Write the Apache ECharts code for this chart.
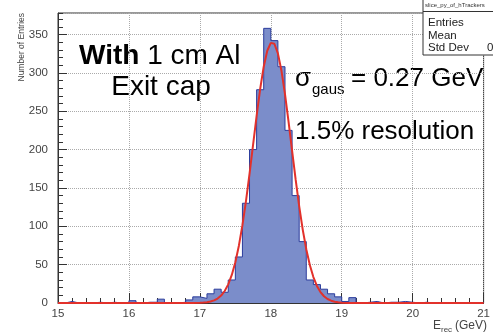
<!DOCTYPE html>
<html>
<head>
<meta charset="utf-8">
<script src="https://cdn.jsdelivr.net/npm/echarts@6/dist/echarts.min.js"></script>
<style>
  html, body { margin: 0; padding: 0; background: #fff; }
  #chart { width: 493px; height: 333px; }
</style>
</head>
<body>
<div id="chart"></div>
<script>
// ---- data ----
const binStart = 15.0;
const binWidth = 0.1;
const counts = [
  0, 2, 0, 0, 0, 1, 0, 1, 0, 0,
  3, 0, 1, 1, 5, 0, 0, 1, 4, 8,
  6, 12, 18, 14, 30, 60, 130, 200, 278, 358,
  342, 308, 225, 140, 80, 30, 24, 18, 12, 8,
  2, 7, 0, 1, 2, 0, 1, 1, 2, 1,
  0, 1, 0, 0, 0, 0, 0, 0, 0, 0
];
const fitX = [15, 16.8, 16.9, 17.0,
  17.05, 17.1, 17.15, 17.2, 17.25, 17.3, 17.35, 17.4, 17.45, 17.5,
  17.55, 17.6, 17.65, 17.7, 17.75, 17.8, 17.85, 17.9, 17.95, 18.0,
  18.05, 18.1, 18.15, 18.2, 18.25, 18.3, 18.35, 18.4, 18.45, 18.5,
  18.55, 18.6, 18.65, 18.7, 18.75, 18.8, 18.85, 18.9, 18.95, 19.0,
  19.1, 19.2, 21];
const fitY = [0, 0.01, 0.06, 0.27,
  0.54, 1.02, 1.89, 3.38, 5.82, 9.71, 15.65, 24.3, 36.6, 53.2,
  74.7, 101.4, 132.9, 168.4, 206.2, 244.0, 278.9, 308.0, 328.8, 339.1,
  337.9, 325.4, 302.8, 272.2, 236.5, 198.6, 161.1, 126.3, 95.7, 70.0,
  49.5, 33.8, 22.3, 14.3, 8.8, 5.24, 3.02, 1.68, 0.90, 0.47,
  0.11, 0.02, 0];
const xMin = 15, xMax = 21, xStep = 1;
const yMin = 0, yMax = 378, yStep = 50, yMinorStep = 10;
const statsTitle = 'slice_py_of_hTrackers';
const statsLabels = ['Entries', 'Mean', 'Std Dev'];

// ---- build series ----
const histData = counts.map((c, i) => [+(binStart + i * binWidth).toFixed(2), c]);
histData.push([+(binStart + counts.length * binWidth).toFixed(2), counts[counts.length - 1]]);
const fitData = fitX.map((x, i) => [x, fitY[i]]);

const FONT = '"Liberation Sans", Arial, Helvetica, sans-serif';
const chart = echarts.init(document.getElementById('chart'), null, { renderer: 'canvas' });

chart.setOption({
  animation: false,
  backgroundColor: '#fff',
  grid: { left: 58, right: 6, top: 13, bottom: 30, show: true, borderColor: '#333', borderWidth: 1, backgroundColor: 'transparent' },
  xAxis: {
    type: 'value', min: xMin, max: xMax, interval: xStep,
    axisLine: { show: true, lineStyle: { color: '#333', width: 1 } },
    axisTick: { show: true, inside: true, length: 10, lineStyle: { color: '#333' } },
    minorTick: { show: true, splitNumber: 5, length: 5, lineStyle: { color: '#333' } },
    axisLabel: { color: '#444', fontSize: 11.5, fontFamily: FONT, margin: 5 },
    splitLine: { show: true, lineStyle: { color: '#aaa', type: 'dotted', width: 1 } }
  },
  yAxis: [{
    type: 'value', min: yMin, max: yMax, interval: yStep, position: 'left',
    axisLine: { show: true, lineStyle: { color: '#333', width: 1 } },
    axisTick: { show: true, inside: true, length: 9, lineStyle: { color: '#333' } },
    axisLabel: { color: '#444', fontSize: 11.5, fontFamily: FONT, margin: 10, showMaxLabel: false },
    splitLine: { show: true, lineStyle: { color: '#aaa', type: 'dotted', width: 1 } }
  }, {
    type: 'value', min: yMin, max: yMax, interval: yMinorStep, position: 'left', offset: 0,
    axisLine: { show: false },
    axisTick: { show: true, inside: true, length: 5, lineStyle: { color: '#333' } },
    axisLabel: { show: false },
    splitLine: { show: false }
  }],
  series: [{
    type: 'line', step: 'end', data: histData, symbol: 'none', yAxisIndex: 0,
    lineStyle: { color: '#2b3c9c', width: 1 },
    areaStyle: { color: '#7b8dca', opacity: 1 },
    z: 2
  }, {
    type: 'line', data: fitData, symbol: 'none', yAxisIndex: 0,
    lineStyle: { color: '#e2312b', width: 2 },
    z: 3
  }],
  graphic: [
    { type: 'text', x: 79, y: 56, style: { text: '{b|With} 1 cm Al', font: '28px ' + FONT, fill: '#000', textVerticalAlign: 'middle',
      rich: { b: { fontWeight: 'bold', fontSize: 28, fontFamily: FONT } } } },
    { type: 'text', x: 161, y: 87, style: { text: 'Exit cap', font: '28px ' + FONT, fill: '#000', textAlign: 'center', textVerticalAlign: 'middle' } },
    { type: 'text', x: 295, y: 79, style: { text: 'σ', font: '26px ' + FONT, fill: '#000', textVerticalAlign: 'middle' } },
    { type: 'text', x: 312, y: 90, style: { text: 'gaus', font: '15px ' + FONT, fill: '#000', textVerticalAlign: 'middle' } },
    { type: 'text', x: 351, y: 79, style: { text: '= 0.27 GeV', font: '26px ' + FONT, fill: '#000', textVerticalAlign: 'middle' } },
    { type: 'text', x: 295, y: 132, style: { text: '1.5% resolution', font: '26px ' + FONT, fill: '#000', textVerticalAlign: 'middle' } },
    { type: 'text', x: 22, y: 13, rotation: Math.PI / 2, style: { text: 'Number of Entries', font: '8.5px ' + FONT, fill: '#444', textAlign: 'right', textVerticalAlign: 'middle' } },
    { type: 'text', x: 433, y: 326, style: { text: 'E', font: '12px ' + FONT, fill: '#444', textVerticalAlign: 'middle' } },
    { type: 'text', x: 441, y: 330, style: { text: 'rec', font: '8px ' + FONT, fill: '#444', textVerticalAlign: 'middle' } },
    { type: 'text', x: 487, y: 326, style: { text: '(GeV)', font: '12px ' + FONT, fill: '#444', textAlign: 'right', textVerticalAlign: 'middle' } },
    { type: 'rect', shape: { x: 423, y: -1, width: 80, height: 56 }, style: { fill: '#fff', stroke: '#333', lineWidth: 1 }, z: 10 },
    { type: 'line', shape: { x1: 423, y1: 11.5, x2: 493, y2: 11.5 }, style: { stroke: '#333', lineWidth: 1 }, z: 11 },
    { type: 'text', x: 425, y: 5.5, z: 11, style: { text: statsTitle, font: '6px ' + FONT, fill: '#333', textVerticalAlign: 'middle' } },
    { type: 'text', x: 428, y: 22.5, z: 11, style: { text: statsLabels[0], font: '11.5px ' + FONT, fill: '#222', textVerticalAlign: 'middle' } },
    { type: 'text', x: 428, y: 35.5, z: 11, style: { text: statsLabels[1], font: '11.5px ' + FONT, fill: '#222', textVerticalAlign: 'middle' } },
    { type: 'text', x: 428, y: 48, z: 11, style: { text: statsLabels[2], font: '11.5px ' + FONT, fill: '#222', textVerticalAlign: 'middle' } },
    { type: 'text', x: 487, y: 48, z: 11, style: { text: '0.3', font: '11.5px ' + FONT, fill: '#222', textVerticalAlign: 'middle' } }
  ]
});
</script>
</body>
</html>
